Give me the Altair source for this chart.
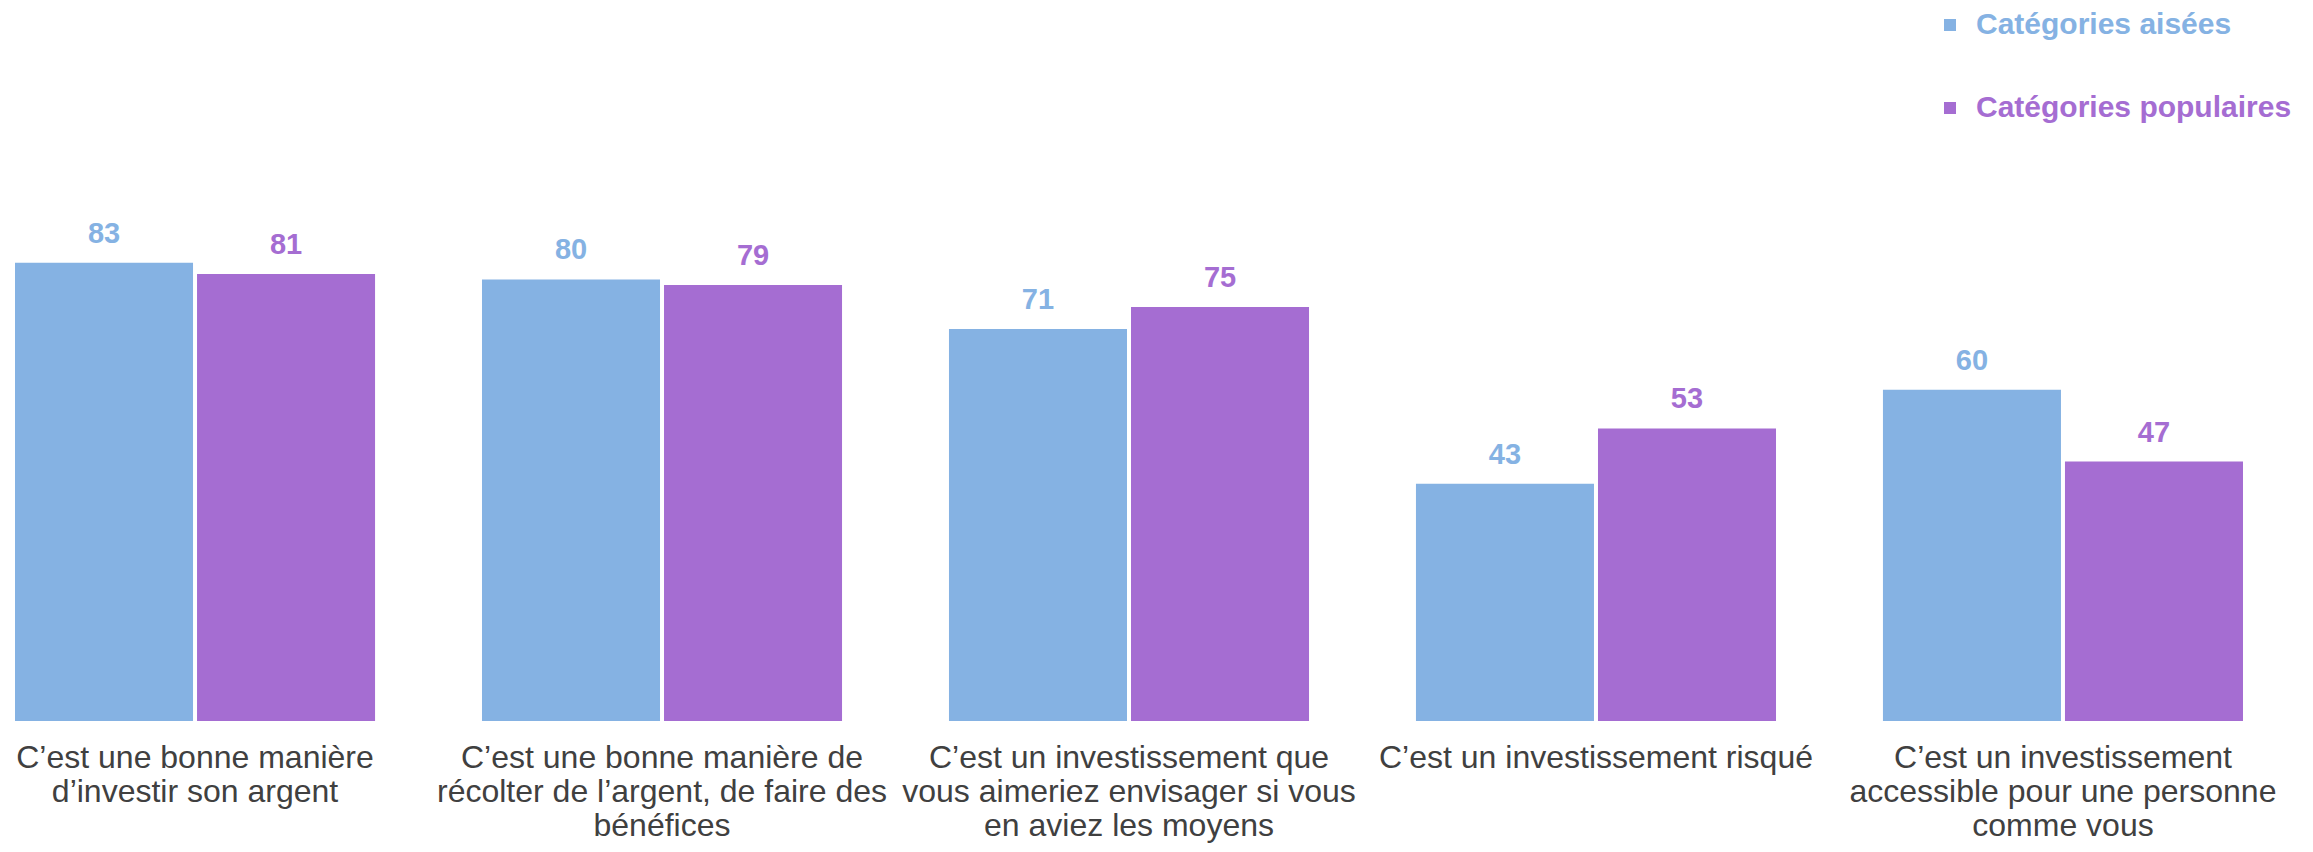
import altair as alt
import pandas as pd

categories = [
    "C’est une bonne manière\nd’investir son argent",
    "C’est une bonne manière de\nrécolter de l’argent, de faire des\nbénéfices",
    "C’est un investissement que\nvous aimeriez envisager si vous\nen aviez les moyens",
    "C’est un investissement risqué",
    "C’est un investissement\naccessible pour une personne\ncomme vous",
]
series = ["Catégories aisées", "Catégories populaires"]
aisees = [83, 80, 71, 43, 60]
populaires = [81, 79, 75, 53, 47]
colors = ["#85B2E3", "#A56DD2"]

rows = []
for c, a, p in zip(categories, aisees, populaires):
    rows.append({"cat": c, "serie": series[0], "val": a})
    rows.append({"cat": c, "serie": series[1], "val": p})
df = pd.DataFrame(rows)

FONT = "Liberation Sans"

x = alt.X(
    "cat:N",
    sort=categories,
    title=None,
    scale=alt.Scale(paddingInner=0.229, paddingOuter=0.015),
    axis=alt.Axis(
        labelAngle=0,
        labelExpr="split(datum.label, '\\n')",
        labelFont=FONT,
        labelFontSize=32,
        labelLineHeight=34,
        labelColor="#404040",
        labelPadding=21,
        labelOverlap=False,
        labelLimit=600,
        labelBound=False,
        domain=False,
        ticks=False,
        labelBaseline="top",
    ),
)
xo = alt.XOffset("serie:N", sort=series, scale=alt.Scale(paddingInner=0.022, paddingOuter=0))
y = alt.Y("val:Q", scale=alt.Scale(domain=[0, 100]), axis=None)
color = alt.Color(
    "serie:N",
    sort=series,
    scale=alt.Scale(domain=series, range=colors),
    legend=alt.Legend(
        title=None,
        orient="none",
        legendX=1927,
        legendY=-159,
        direction="vertical",
        symbolType="square",
        symbolSize=144,
        symbolStrokeWidth=0,
        labelFont=FONT,
        labelFontSize=30,
        labelFontWeight="bold",
        labelOffset=11,
        labelLimit=600,
        rowPadding=53,
        padding=0,
        labelColor={"expr": "datum.value == 'Catégories aisées' ? '#85B2E3' : '#A56DD2'"},
    ),
)

bars = alt.Chart(df).mark_bar().encode(x=x, xOffset=xo, y=y, color=color)
labels = alt.Chart(df).mark_text(
    font=FONT, fontSize=29, fontWeight="bold", dy=-20, baseline="alphabetic"
).encode(
    x=x,
    xOffset=xo,
    y=y,
    text=alt.Text("val:Q"),
    color=alt.Color("serie:N", sort=series, scale=alt.Scale(domain=series, range=colors), legend=None),
)

chart = (
    alt.layer(bars, labels)
    .properties(
        width=2242,
        height=552,
        autosize=alt.AutoSizeParams(type="none"),
        padding={"left": 0, "top": 161, "right": 48, "bottom": 122},
    )
    .configure_view(stroke=None)
)

chart.save("out.html", embed_options={"renderer": "svg", "actions": False})
